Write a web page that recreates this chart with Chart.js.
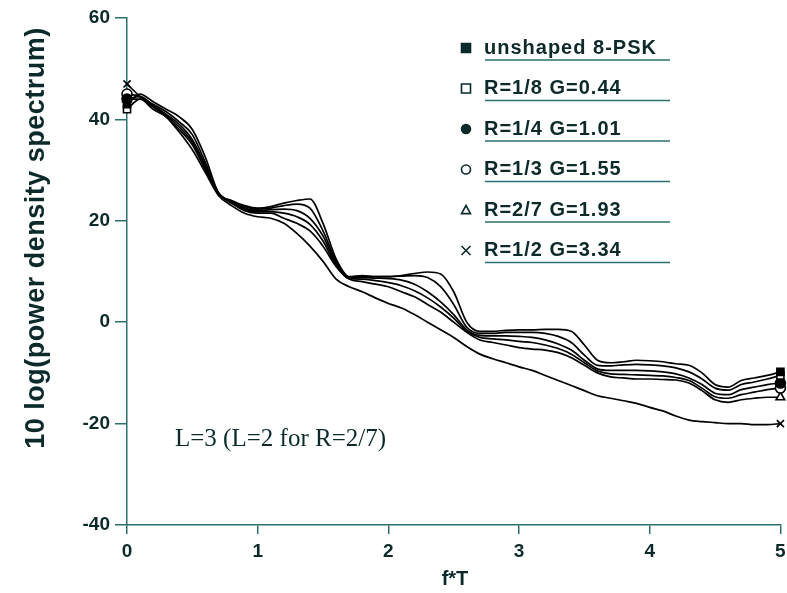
<!DOCTYPE html>
<html><head><meta charset="utf-8">
<script src="https://cdn.jsdelivr.net/npm/chart.js@4/dist/chart.umd.min.js"></script>
<style>html,body{margin:0;padding:0;background:#fff}#wrap{width:787px;height:593px}</style>
</head><body><div id="wrap"><canvas id="c" width="787" height="593"></canvas></div>
<script>
const freq = [0,0.1,0.2,0.3,0.4,0.5,0.6,0.7,0.8,0.9,1.0,1.1,1.2,1.3,1.4,1.5,1.6,1.7,1.8,1.9,2.0,2.1,2.2,2.3,2.4,2.5,2.6,2.7,2.8,2.9,3.0,3.1,3.2,3.3,3.4,3.5,3.6,3.7,3.8,3.9,4.0,4.1,4.2,4.3,4.4,4.5,4.6,4.7,4.8,4.9,5.0];

const unshaped = [43,45,43.5,42,40.5,38,32.5,25.5,24,23,22.5,22.8,23.5,24,24.3,19.5,12.5,9,9.2,9,9,9.2,9.6,9.9,9.5,6,0,-1.8,-1.8,-1.6,-1.5,-1.5,-1.4,-1.4,-1.8,-4.5,-7.5,-8,-7.8,-7.5,-7.6,-7.8,-8.2,-8.5,-10,-12.3,-12.8,-11.5,-11,-10.5,-9.8];
const r18 = [42,44,43,41.5,39.5,37,31.5,25.5,23.8,22.8,22.3,22.5,23,23.3,22.5,18,12,8.8,9,9,9,9.1,9.2,8.8,7,3.5,-1,-2.2,-2.2,-2,-2,-2,-2.2,-2.8,-4,-6.5,-8.5,-8.6,-8.4,-8.3,-8.4,-8.6,-9,-9.8,-11.2,-13,-13.4,-12.3,-11.8,-11.2,-10.5];
const r14 = [44,44.5,42.8,41,39,36,31,25.5,23.6,22.5,22,22.2,22.3,22,20.5,17,11.5,8.7,8.8,8.7,8.6,8.3,7.5,6,4,1.5,-1.5,-2.6,-2.7,-2.7,-2.8,-3,-3.5,-4.3,-5.5,-7.5,-9.2,-9.5,-9.5,-9.5,-9.6,-9.8,-10.2,-11,-12.3,-14,-14.3,-13.3,-12.8,-12.3,-12];
const r13 = [45,44.5,42.5,40.8,38.5,35.5,30.5,25.5,23.5,22.3,21.8,21.8,21.5,20.8,19.3,16,11.2,8.6,8.5,8.2,7.8,7.2,6.2,4.8,3,0.8,-1.8,-3,-3.3,-3.5,-3.8,-4,-4.5,-5.2,-6.3,-8,-9.6,-10.2,-10.3,-10.4,-10.5,-10.6,-10.9,-11.5,-13,-14.7,-15,-14.3,-13.8,-13.3,-13];
const r27 = [44,44,42,40.5,38,35,30,25.5,23.5,22,21.5,21.5,20.5,19.5,18,15,11,8.5,8,7.5,7,6,5,3.5,2,0,-2,-3.5,-4,-4.5,-5,-5.3,-5.5,-6,-7,-8.5,-10,-10.8,-11,-11.2,-11.2,-11.3,-11.4,-12,-13.5,-15.3,-15.8,-15.3,-15,-14.8,-14.8];
const r12 = [47,44.5,42.5,40.5,37.5,34,29.5,25,23,21.5,20.8,20.5,19.5,17.5,15,12,8.5,7,6,4.8,3.7,2.8,1.5,0,-1.5,-3,-4.8,-6.3,-7.2,-8,-8.8,-9.5,-10.5,-11.5,-12.5,-13.5,-14.5,-15,-15.5,-16,-16.8,-17.5,-18.5,-19.3,-19.6,-19.8,-20,-20,-20.2,-20.2,-20];

const seriesNames = ['unshaped 8-PSK','R=1/8 G=0.44','R=1/4 G=1.01','R=1/3 G=1.55','R=2/7 G=1.93','R=1/2 G=3.34'];
const seriesValues = [unshaped, r18, r14, r13, r27, r12];
const markerStyles = ['rect','rect','circle','circle','triangle','crossRot'];
const markerFilled = [true,false,true,false,false,false];

const xTicks = [0,1,2,3,4,5];
const yTicks = [-40,-20,0,20,40,60];
const xTitle = 'f*T';
const yTitle = '10 log(power density spectrum)';
const note = 'L=3 (L=2 for R=2/7)';

const AXIS = '#2a6f6d';
const TEXT = '#0c2a2a';
const last = freq.length - 1;

const datasets = seriesValues.map((vals, k) => ({
  label: seriesNames[k],
  data: freq.map((f, i) => ({x: f, y: vals[i]})),
  borderColor: '#000',
  borderWidth: 1.7,
  fill: false,
  clip: false,
  cubicInterpolationMode: 'monotone',
  pointStyle: markerStyles[k],
  pointRadius: ctx => (ctx.dataIndex === 0 || ctx.dataIndex === last) ? 5 : 0,
  pointHoverRadius: 0,
  pointBorderColor: '#000',
  pointBorderWidth: 1.6,
  pointBackgroundColor: markerFilled[k] ? '#000' : '#fff'
}));

function drawMarker(ctx, style, filled, x, y, r) {
  ctx.save();
  ctx.strokeStyle = TEXT; ctx.fillStyle = filled ? TEXT : '#fff'; ctx.lineWidth = 1.6;
  ctx.beginPath();
  if (style === 'rect') { ctx.rect(x - r, y - r, 2*r, 2*r); ctx.fill(); ctx.stroke(); }
  else if (style === 'circle') { ctx.arc(x, y, r, 0, Math.PI*2); ctx.fill(); ctx.stroke(); }
  else if (style === 'triangle') { ctx.moveTo(x, y - r); ctx.lineTo(x + r, y + r*0.8); ctx.lineTo(x - r, y + r*0.8); ctx.closePath(); ctx.fill(); ctx.stroke(); }
  else { ctx.moveTo(x - r, y - r); ctx.lineTo(x + r, y + r); ctx.moveTo(x + r, y - r); ctx.lineTo(x - r, y + r); ctx.stroke(); }
  ctx.restore();
}

const decor = {
  id: 'decor',
  afterDraw(chart) {
    const ctx = chart.ctx;
    ctx.save();
    ctx.font = 'bold 20px "Liberation Sans", Arial, sans-serif';
    try { ctx.letterSpacing = '1px'; } catch(e) {}
    ctx.textBaseline = 'middle';
    ctx.textAlign = 'left';
    seriesNames.forEach((name, k) => {
      const y = 48 + k * 40.5;
      drawMarker(ctx, markerStyles[k], markerFilled[k], 466, y, 4.5);
      ctx.fillStyle = TEXT;
      ctx.fillText(name, 484, y);
      ctx.strokeStyle = AXIS; ctx.lineWidth = 1.5;
      ctx.beginPath(); ctx.moveTo(485, y + 12); ctx.lineTo(670, y + 12); ctx.stroke();
    });
    try { ctx.letterSpacing = '0px'; } catch(e) {}
    ctx.font = '25px "Liberation Serif", "Times New Roman", serif';
    ctx.fillStyle = TEXT;
    ctx.textBaseline = 'alphabetic';
    ctx.fillText(note, 175, 446);
    ctx.font = 'bold 20px "Liberation Sans", Arial, sans-serif';
    ctx.textAlign = 'center';
    ctx.fillText(xTitle, 455, 585);
    ctx.save();
    ctx.translate(44, 238);
    ctx.rotate(-Math.PI/2);
    ctx.font = 'bold 27px "Liberation Sans", Arial, sans-serif';
    try { ctx.letterSpacing = '0.5px'; } catch(e) {}
    ctx.textBaseline = 'alphabetic';
    ctx.fillText(yTitle, 0, 0);
    ctx.restore();
    ctx.restore();
  }
};

new Chart(document.getElementById('c'), {
  type: 'line',
  data: { datasets },
  options: {
    responsive: false,
    animation: false,
    devicePixelRatio: 1,
    layout: { padding: { left: 0, right: 5, top: 18, bottom: 0 } },
    plugins: { legend: { display: false }, tooltip: { enabled: false } },
    scales: {
      x: {
        type: 'linear', min: 0, max: 5,
        afterFit: s => { s.height = 68; s.paddingLeft = 0; s.paddingRight = 0; },
        afterBuildTicks: s => { s.ticks = xTicks.map(v => ({value: v})); },
        border: { display: true, color: AXIS, width: 1.5 },
        grid: { display: true, drawOnChartArea: false, drawTicks: true, tickLength: 9, color: AXIS, lineWidth: 1.5 },
        ticks: { color: TEXT, font: { family: '"Liberation Sans", Arial, sans-serif', size: 19, weight: 'bold' }, padding: 6, maxRotation: 0 }
      },
      y: {
        min: -40, max: 60,
        afterFit: s => { s.width = 127; s.paddingTop = 0; s.paddingBottom = 0; },
        afterBuildTicks: s => { s.ticks = yTicks.map(v => ({value: v})); },
        border: { display: true, color: AXIS, width: 1.5 },
        grid: { display: true, drawOnChartArea: false, drawTicks: true, tickLength: 12, color: AXIS, lineWidth: 1.5 },
        ticks: { color: TEXT, font: { family: '"Liberation Sans", Arial, sans-serif', size: 19, weight: 'bold' }, padding: 5 }
      }
    }
  },
  plugins: [decor]
});
</script>
</body></html>
